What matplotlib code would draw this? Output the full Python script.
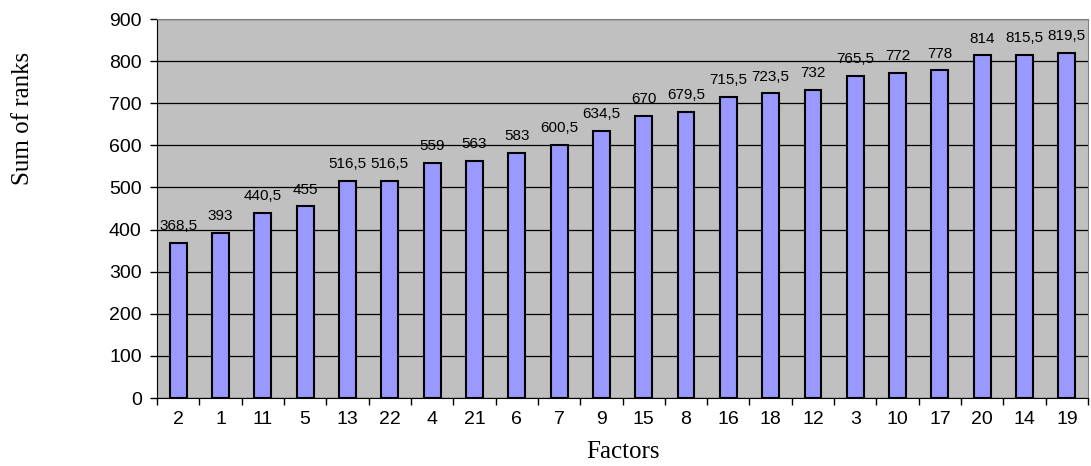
import matplotlib
matplotlib.use("Agg")
import matplotlib.pyplot as plt
import numpy as np

factors = ["2", "1", "11", "5", "13", "22", "4", "21", "6", "7", "9",
           "15", "8", "16", "18", "12", "3", "10", "17", "20", "14", "19"]
rank_sums = [368.5, 393, 440.5, 455, 516.5, 516.5, 559, 563, 583, 600.5, 634.5,
             670, 679.5, 715.5, 723.5, 732, 765.5, 772, 778, 814, 815.5, 819.5]
y_ticks = [0, 100, 200, 300, 400, 500, 600, 700, 800, 900]

fig = plt.figure(figsize=(10.91, 4.66), dpi=100)
ax = fig.add_axes([0.1439, 0.1459, 0.8534, 0.8133])
ax.set_facecolor("#C0C0C0")

x = np.arange(len(factors))
ax.bar(x, rank_sums, width=0.4, color="#9999FF", edgecolor="black",
       linewidth=1.5, zorder=3)

for xi, v in zip(x, rank_sums):
    txt = f"{v:g}".replace(".", ",")
    ax.annotate(txt, (xi, v), xytext=(0, 7), textcoords="offset points",
                ha="center", va="bottom", fontsize=11,
                family="Liberation Sans", zorder=4)

ax.set_xlim(-0.5, len(factors) - 0.5)
ax.set_ylim(0, 900)
ax.set_yticks(y_ticks)
ax.yaxis.grid(True, color="black", linewidth=0.9, zorder=1)
ax.set_axisbelow(True)

ax.set_xticks(x)
ax.set_xticklabels(factors, family="Liberation Sans", fontsize=14)
ax.set_xticks(np.arange(-0.5, len(factors), 1), minor=True)
ax.tick_params(axis="x", which="major", length=0, pad=9)
ax.tick_params(axis="x", which="minor", length=5, width=1, direction="out")
ax.tick_params(axis="y", length=5, width=1, direction="out", pad=6)
for lab in ax.get_yticklabels():
    lab.set_family("Liberation Sans")
    lab.set_fontsize(14)

for side in ("top", "right"):
    ax.spines[side].set_color("#808080")
ax.spines["left"].set_color("black")
ax.spines["bottom"].set_color("black")

ax.set_xlabel("Factors", family="Liberation Serif", fontsize=18, labelpad=10)
fig.text(0.021, 0.745, "Sum of ranks", rotation=90, ha="center", va="center",
         family="Liberation Serif", fontsize=18)

fig.savefig("out.png", dpi=100)
